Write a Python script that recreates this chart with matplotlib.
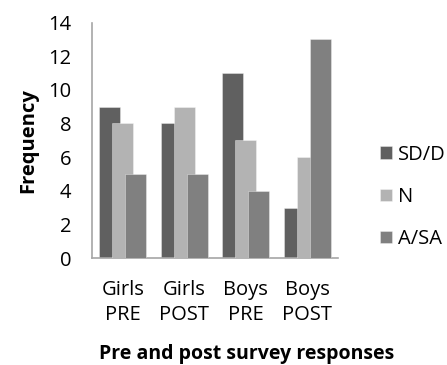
import matplotlib
matplotlib.use("Agg")
import matplotlib.pyplot as plt
import numpy as np

# Survey data
groups = ["Girls\nPRE", "Girls\nPOST", "Boys\nPRE", "Boys\nPOST"]
series_names = ["SD/D", "N", "A/SA"]
sdd = [9, 8, 11, 3]
neutral = [8, 9, 7, 6]
agree = [5, 5, 4, 13]
colors = ["#606060", "#b3b3b3", "#808080"]

plt.rcParams["font.family"] = ["Open Sans", "DejaVu Sans"]
FS = 14.5

fig = plt.figure(figsize=(4.47, 3.65), dpi=100)
ax = fig.add_axes([92 / 447, 1 - 258 / 365, 246 / 447, 235.5 / 365])

x = np.arange(len(groups))
offset = 0.21
width = 0.34
for i, (vals, name, col) in enumerate(zip([sdd, neutral, agree], series_names, colors)):
    ax.bar(x + (i - 1) * offset, vals, width=width, color=col, label=name,
           edgecolor=(1, 1, 1, 0.35), linewidth=0.7, zorder=2 + i)

ax.set_xlim(-0.5, len(groups) - 0.5)
ax.set_ylim(0, 14)
ax.set_yticks(range(0, 15, 2))
ax.set_xticks(x)
ax.set_xticklabels(groups, fontsize=FS, linespacing=1.35)
ax.tick_params(axis="y", labelsize=FS, length=0, pad=15)
ax.tick_params(axis="x", length=0, pad=16)

for side in ["top", "right"]:
    ax.spines[side].set_visible(False)
for side in ["left", "bottom"]:
    ax.spines[side].set_color("#a6a6a6")
    ax.spines[side].set_linewidth(1.2)

ax.set_ylabel("Frequency", fontsize=FS, fontweight="bold", labelpad=7)
fig.text(246.5 / 447, 1 - 359 / 365, "Pre and post survey responses",
         fontsize=14, fontweight="bold", ha="center", va="baseline")

ax.legend(loc="center left", bbox_to_anchor=(372 / 447, 1 - 197 / 365),
          bbox_transform=fig.transFigure, frameon=False, fontsize=FS,
          handlelength=0.6, handleheight=0.6, handletextpad=0.3,
          labelspacing=1.1, borderaxespad=0)

fig.savefig("out.png", dpi=100)
